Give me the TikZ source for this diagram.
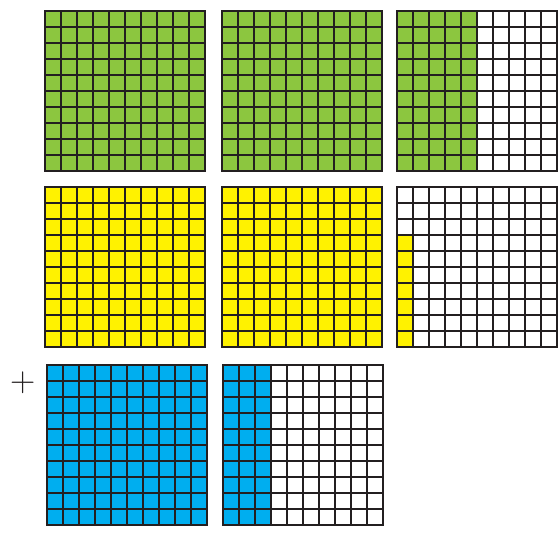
\documentclass[tikz,border=0pt]{standalone}
\definecolor{cgreen}{HTML}{8CC63F}
\definecolor{cyellow}{HTML}{FFF200}
\definecolor{cblue}{HTML}{00AEEF}
\definecolor{cline}{HTML}{231F20}
\tikzset{
  every picture/.style={x=1pt, y=1pt},
  gridline/.style={draw=cline, line width=2.4pt, line cap=rect},
  sign/.style={font=\fontsize{35}{35}\selectfont, text=cline, inner sep=0pt},
}
\newcommand{\hundred}[5]{% x, y, colour, full columns, extra cells
  \begin{scope}[shift={(#1,#2)}]
    \ifnum#4>0 \fill[#3] (0,0) rectangle (16*#4,160); \fi
    \ifnum#5>0 \fill[#3] (16*#4,0) rectangle ++(16,16*#5); \fi
    \draw[gridline] (0,0) grid[step=16] (160,160);
  \end{scope}}

\begin{document}
\begin{tikzpicture}
  \useasboundingbox (0,0) rectangle (560,544);
  % ones, tenths, hundredths
  \foreach \gx/\gy/\gc/\gn/\ge in {45/373/cgreen/10/0, 222/373/cgreen/10/0, 397/373/cgreen/5/0,
                                   45/197/cyellow/10/0, 222/197/cyellow/10/0, 397/197/cyellow/0/7,
                                   47/19/cblue/10/0, 223/19/cblue/3/0}
    \hundred{\gx}{\gy}{\gc}{\gn}{\ge};
  \node[sign] (plus) at (23,161) {+};
\end{tikzpicture}
\end{document}
